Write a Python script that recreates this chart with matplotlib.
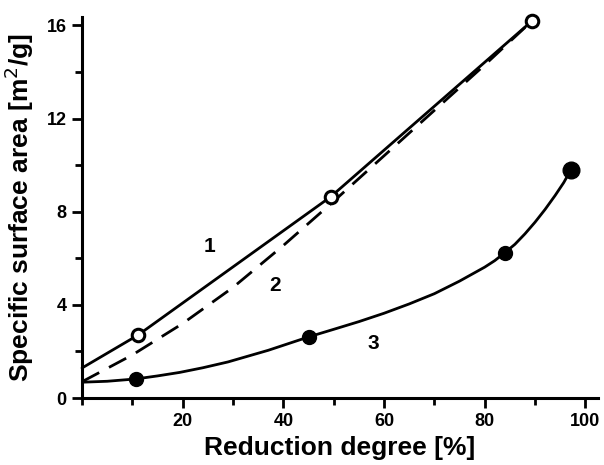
# Specific surface area vs reduction degree (curves 1, 2, 3)
import numpy as np
import matplotlib
matplotlib.use("Agg")
import matplotlib.pyplot as plt
from matplotlib.ticker import MultipleLocator

plt.rcParams['font.family'] = ['Liberation Sans', 'DejaVu Sans']

# curve 1: open circles, straight segments
x1 = [0, 11.1, 49.4, 89.4]
y1 = [1.29, 2.70, 8.64, 16.19]
x1_pts = [11.1, 49.4, 89.4]
y1_pts = [2.70, 8.64, 16.19]

# curve 2: dashed
x2 = [0, 10, 20, 30, 40, 50, 60, 70, 80, 89.4]
y2 = [0.70, 1.85, 3.20, 4.75, 6.55, 8.45, 10.4, 12.35, 14.3, 16.19]

# curve 3: filled circles, smooth line
x3 = [0, 5, 10.7, 15, 19.4, 24, 29, 37, 45.1, 50, 55, 60, 65, 70, 75, 80, 82, 84.0,
      86, 88, 90, 92, 94, 95.7, 97.1]
y3 = [0.68, 0.72, 0.82, 0.95, 1.10, 1.30, 1.55, 2.05, 2.63, 2.95, 3.28, 3.64, 4.04, 4.48, 5.02, 5.62, 5.90, 6.24,
      6.60, 7.05, 7.55, 8.10, 8.70, 9.25, 9.79]
x3_pts = [10.7, 45.1, 84.0]
y3_pts = [0.82, 2.63, 6.24]
x3_last = [97.1]
y3_last = [9.79]

labels = ['1', '2', '3']
label_x = [25.4, 38.3, 57.8]
label_y = [6.49, 4.85, 2.35]

fig = plt.figure(figsize=(6.04, 4.65), dpi=100)
ax = fig.add_axes([0.1358, 0.144, 0.990 - 0.1358, 0.963 - 0.144])

lw = 2.0
ax.plot(x1, y1, color='black', lw=lw, solid_capstyle='round', clip_on=False)
ax.plot(x1_pts, y1_pts, 'o', ms=9, mfc='white', mec='black', mew=2.2, clip_on=False, zorder=5)

l2, = ax.plot(x2, y2, color='black', lw=lw, clip_on=False)
l2.set_dashes((7, 4))

ax.plot(x3, y3, color='black', lw=lw, solid_joinstyle='round', solid_capstyle='round')
ax.plot(x3_pts, y3_pts, 'o', ms=10, color='black', zorder=5)
ax.plot(x3_last, y3_last, 'o', ms=12, color='black', zorder=5)

for t, tx, ty in zip(labels, label_x, label_y):
    ax.text(tx, ty, t, fontsize=15, fontweight='bold', ha='center', va='center')

ax.set_xlim(0, 102.5)
ax.set_ylim(0, 16.35)
for s in ['top', 'right']:
    ax.spines[s].set_visible(False)
for s in ['left', 'bottom']:
    ax.spines[s].set_linewidth(2.2)

ax.xaxis.set_major_locator(MultipleLocator(20))
ax.xaxis.set_minor_locator(MultipleLocator(10))
ax.yaxis.set_major_locator(MultipleLocator(4))
ax.yaxis.set_minor_locator(MultipleLocator(2))
ax.set_xticks([20, 40, 60, 80, 100])
ax.set_xticklabels(['20', '40', '60', '80', '100'])
ax.tick_params(which='major', length=7, width=2.0, labelsize=13, pad=4)
ax.tick_params(which='minor', length=5, width=2.0)
for lab in ax.get_xticklabels() + ax.get_yticklabels():
    lab.set_fontweight('bold')

ax.set_xlabel('Reduction degree [%]', fontsize=19, fontweight='bold', labelpad=4)
ax.set_ylabel('Specific surface area [m$^2$/g]', fontsize=19, fontweight='bold', labelpad=8)

fig.savefig('out.png', dpi=100)
